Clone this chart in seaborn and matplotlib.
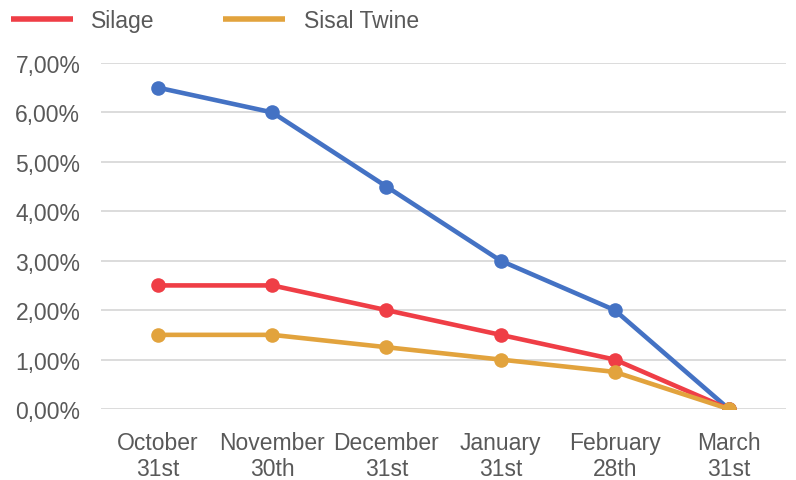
import matplotlib
matplotlib.use("Agg")
import matplotlib.pyplot as plt
import seaborn as sns
import pandas as pd
from matplotlib.ticker import FuncFormatter
from matplotlib.lines import Line2D

categories = ["October\n31st", "November\n30th", "December\n31st", "January\n31st", "February\n28th", "March\n31st"]
series_blue = [0.065, 0.060, 0.045, 0.030, 0.020, 0.0]
silage = [0.025, 0.025, 0.020, 0.015, 0.010, 0.0]
sisal_twine = [0.015, 0.015, 0.0125, 0.010, 0.0075, 0.0]

names = ["Series 1", "Silage", "Sisal Twine"]
colors = ["#4472C4", "#EF3E46", "#E2A33D"]

rows = []
for name, vals in zip(names, [series_blue, silage, sisal_twine]):
    for i, (c, v) in enumerate(zip(categories, vals)):
        rows.append({"x": i, "cat": c, "value": v, "series": name})
df = pd.DataFrame(rows)

sns.set_theme(style="white")
plt.rcParams['font.family'] = ['Liberation Sans', 'DejaVu Sans']

fig = plt.figure(figsize=(7.96, 4.81), dpi=100)
ax = fig.add_axes([0.127, 0.1476, 0.8604, 0.7194])

sns.lineplot(data=df, x="x", y="value", hue="series", hue_order=names,
             palette=colors, marker="o", markersize=10.5, linewidth=3.3,
             markeredgewidth=0, legend=False, ax=ax, zorder=3)

ax.set_xlim(-0.5, 5.5)
ax.set_ylim(0, 0.07)
ax.set_yticks([i / 100 for i in range(8)])
ax.yaxis.set_major_formatter(FuncFormatter(lambda v, p: f"{v*100:.2f}%".replace(".", ",")))
ax.set_xticks(range(len(categories)))
ax.set_xticklabels(categories, linespacing=1.15)
ax.grid(axis="y", color="#D9D9D9", linewidth=1.3, zorder=0)
ax.grid(axis="x", visible=False)
for s in ax.spines.values():
    s.set_visible(False)
ax.tick_params(axis="both", length=0, labelsize=16.5, labelcolor="#595959")
ax.tick_params(axis="y", pad=15)
ax.tick_params(axis="x", pad=16)
ax.set_xlabel("")
ax.set_ylabel("")

handles = [Line2D([0], [0], color=colors[1], linewidth=4.0, solid_capstyle="butt"),
           Line2D([0], [0], color=colors[2], linewidth=4.0, solid_capstyle="butt")]
fig.legend(handles, names[1:], loc="upper left", bbox_to_anchor=(11 / 796, 1 - 10 / 481),
           ncol=2, frameon=False, fontsize=16.5, labelcolor="#595959",
           handlelength=2.7, handletextpad=0.8, columnspacing=3.0,
           borderpad=0, borderaxespad=0)

fig.savefig("out.png", dpi=100)
